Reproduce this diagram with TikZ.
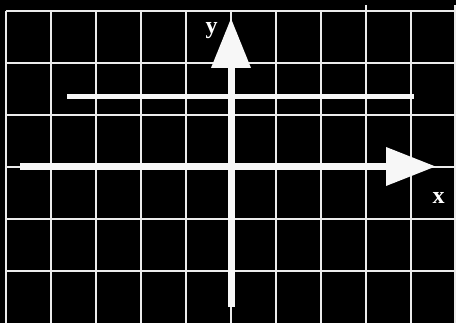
\documentclass[tikz,border=0pt]{standalone}
\usepackage{fontspec}
\setmainfont{Liberation Serif}
\usetikzlibrary{arrows.meta}
\begin{document}
\begin{tikzpicture}[x=1pt,y=-1pt,
  gridline/.style={draw=white!92!black,line width=1.6pt},
  axis/.style={draw=white!97!black,line width=7pt,line cap=butt},
  bar/.style={draw=white!97!black,line width=5pt,line cap=butt},
  lab/.style={text=white,font=\bfseries\fontsize{24}{24}\selectfont,inner sep=0pt}]
\fill[black] (0,0) rectangle (456,323);
\useasboundingbox (0,0) rectangle (456,323);
% grid
\foreach \gx in {6,51,96,141,186,231,276,321,411}
  \draw[gridline] (\gx,11) -- (\gx,323);
\draw[gridline] (366,5) -- (366,323);
\draw[gridline] (455,5) -- (455,323);
\foreach \gy in {11,63,115,167,219,271}
  \draw[gridline] (6,\gy) -- (456,\gy);
% axes
\coordinate (ybot) at (231,307);
\coordinate (ytip) at (231,18);
\coordinate (xl) at (20,166.5);
\coordinate (xtip) at (436,166.5);
\coordinate (bl) at (67,96.5);
\coordinate (br) at (414,96.5);
\draw[axis,-{Triangle[length=50pt,width=38pt]}] (ybot) -- (ytip);
\draw[axis,-{Triangle[length=50pt,width=37pt]}] (xl) -- (xtip);
\draw[bar] (bl) -- (br);
\node[lab] (ylab) at (211.5,31) {y};
\node[lab] (xlab) at (438.5,198) {x};
\end{tikzpicture}
\end{document}
